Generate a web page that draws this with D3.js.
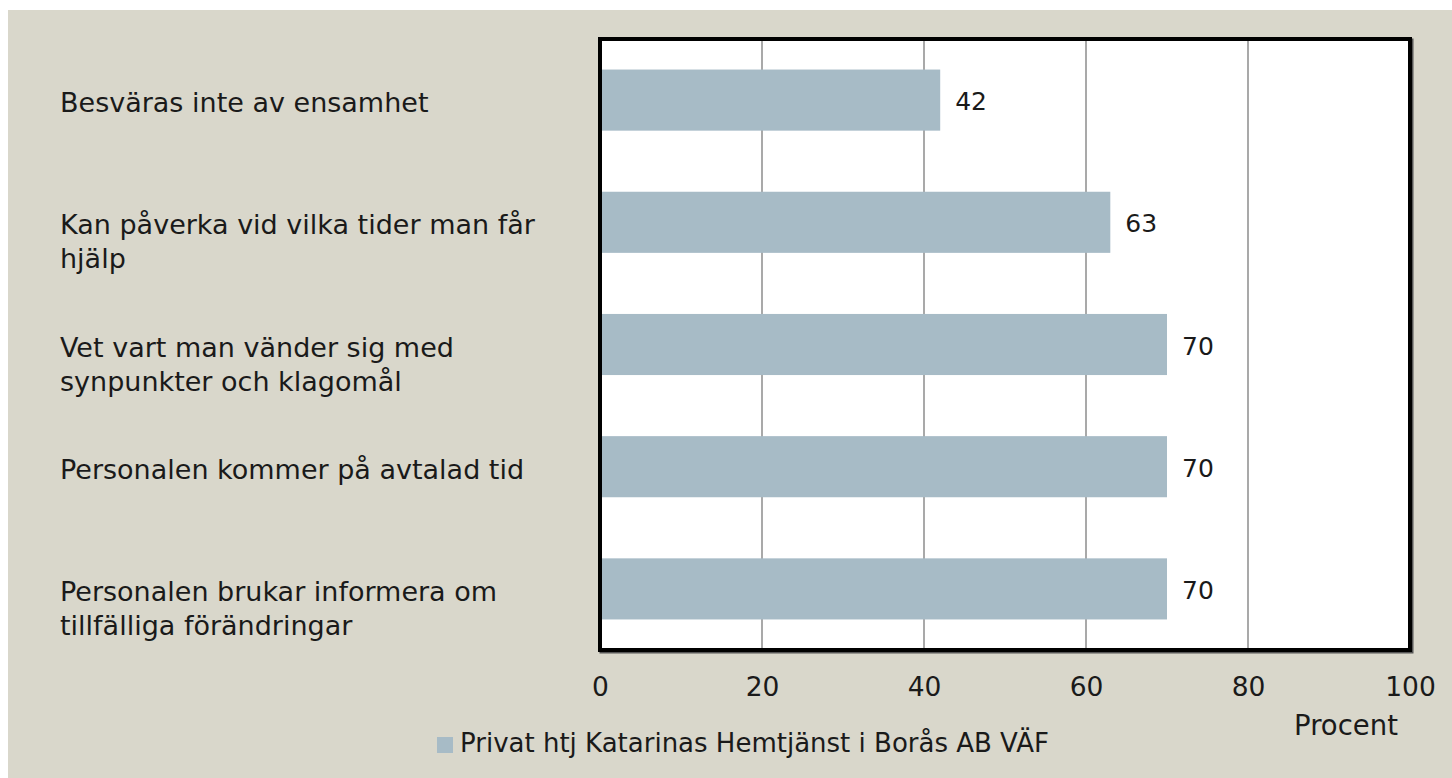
<!DOCTYPE html>
<html>
<head>
<meta charset="utf-8">
<script src="https://cdn.jsdelivr.net/npm/d3@7"></script>
<style>
  html, body { margin: 0; padding: 0; background: #ffffff; }
  svg { display: block; }
  text { font-family: "DejaVu Sans", sans-serif; fill: #1a1a1a; }
</style>
</head>
<body>
<svg id="chart" width="1452" height="778"></svg>
<script>
// ---- data ----
const categories = [
  "Besväras inte av ensamhet",
  "Kan påverka vid vilka tider man får hjälp",
  "Vet vart man vänder sig med synpunkter och klagomål",
  "Personalen kommer på avtalad tid",
  "Personalen brukar informera om tillfälliga förändringar"
];
const categoryLines = [
  ["Besväras inte av ensamhet"],
  ["Kan påverka vid vilka tider man får", "hjälp"],
  ["Vet vart man vänder sig med", "synpunkter och klagomål"],
  ["Personalen kommer på avtalad tid"],
  ["Personalen brukar informera om", "tillfälliga förändringar"]
];
const values = [42, 63, 70, 70, 70];
const xTicks = [0, 20, 40, 60, 80, 100];
const seriesName = "Privat htj Katarinas Hemtjänst i Borås AB VÄF";
const axisTitle = "Procent";

// ---- layout ----
const W = 1452, H = 778;
const plot = { left: 600, right: 1410, top: 39, bottom: 650 };
const svg = d3.select("#chart");

svg.append("rect").attr("x", 8).attr("y", 10).attr("width", W - 8).attr("height", H - 10)
  .attr("fill", "#d9d7cb");

const x = d3.scaleLinear().domain([0, 100]).range([plot.left, plot.right]);
const y = d3.scaleBand().domain(categories).range([plot.top, plot.bottom]).paddingInner(0.5).paddingOuter(0.25);

// plot shadow + background
svg.append("rect")
  .attr("x", plot.left + 1.5).attr("y", plot.top + 1.5)
  .attr("width", plot.right - plot.left).attr("height", plot.bottom - plot.top)
  .attr("fill", "none").attr("stroke", "#555").attr("stroke-width", 4);
svg.append("rect")
  .attr("x", plot.left).attr("y", plot.top)
  .attr("width", plot.right - plot.left).attr("height", plot.bottom - plot.top)
  .attr("fill", "#ffffff");

// gridlines
svg.append("g").selectAll("line").data(xTicks.filter(t => t > 0 && t < 100)).join("line")
  .attr("x1", d => x(d)).attr("x2", d => x(d))
  .attr("y1", plot.top).attr("y2", plot.bottom)
  .attr("stroke", "#8c8c8c").attr("stroke-width", 1.5);

// bars
svg.append("g").selectAll("rect").data(values).join("rect")
  .attr("x", x(0))
  .attr("y", (d, i) => y(categories[i]))
  .attr("width", d => x(d) - x(0))
  .attr("height", y.bandwidth())
  .attr("fill", "#a7bbc6");

// value labels
svg.append("g").selectAll("text").data(values).join("text")
  .attr("x", d => x(d) + 15)
  .attr("y", (d, i) => y(categories[i]) + y.bandwidth() / 2 + 10)
  .attr("font-size", 25)
  .text(d => d);

// border
svg.append("rect")
  .attr("x", plot.left).attr("y", plot.top)
  .attr("width", plot.right - plot.left).attr("height", plot.bottom - plot.top)
  .attr("fill", "none").attr("stroke", "#000").attr("stroke-width", 4);

// x axis labels
const xAxis = d3.axisBottom(x).tickValues(xTicks).tickSize(0).tickPadding(0);
const gx = svg.append("g").attr("transform", `translate(0,${plot.bottom})`).call(xAxis);
gx.select(".domain").remove();
gx.selectAll("text")
  .attr("font-size", 26.5).attr("fill", "#1a1a1a")
  .attr("font-family", "DejaVu Sans, sans-serif")
  .attr("dy", null).attr("y", 46);

svg.append("text").attr("x", 1346).attr("y", 735).attr("text-anchor", "middle")
  .attr("font-size", 27.5).text(axisTitle);

// category labels
const cat = svg.append("g").selectAll("text").data(categoryLines).join("text")
  .attr("x", 60)
  .attr("y", (d, i) => y(categories[i]) + y.bandwidth() / 2 + 12)
  .attr("font-size", 27);
cat.selectAll("tspan").data(d => d).join("tspan")
  .attr("x", 60)
  .attr("dy", (d, j) => j === 0 ? 0 : 34)
  .text(d => d);

// legend
svg.append("rect").attr("x", 437).attr("y", 737).attr("width", 16).attr("height", 16).attr("fill", "#a7bbc6");
svg.append("text").attr("x", 460).attr("y", 752).attr("font-size", 26).text(seriesName);
</script>
</body>
</html>
